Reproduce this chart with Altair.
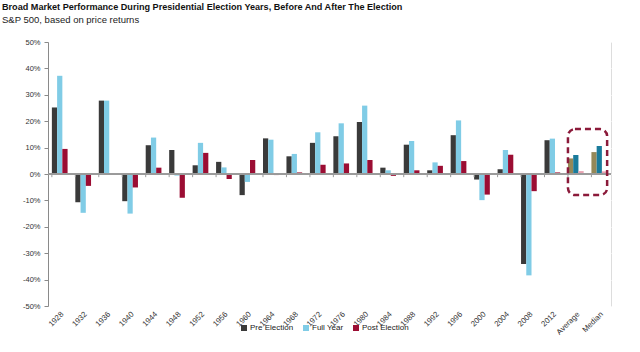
import altair as alt
import pandas as pd

categories = ["1928", "1932", "1936", "1940", "1944", "1948", "1952", "1956", "1960", "1964",
              "1968", "1972", "1976", "1980", "1984", "1988", "1992", "1996", "2000", "2004",
              "2008", "2012", "Average", "Median"]
pre_election = [25.2, -10.7, 27.8, -10.3, 10.9, 9.1, 3.3, 4.6, -8.0, 13.5, 6.7, 11.8, 14.3, 19.7,
                2.4, 11.1, 1.4, 14.7, -2.1, 1.8, -34.1, 12.8, 5.9, 8.3]
full_year = [37.2, -14.7, 27.8, -15.0, 13.8, -0.6, 11.8, 2.5, -3.0, 13.0, 7.6, 15.8, 19.2, 25.9,
             1.4, 12.5, 4.4, 20.3, -9.9, 9.1, -38.4, 13.4, 7.2, 10.6]
post_election = [9.5, -4.5, None, -5.1, 2.4, -9.0, 8.0, -1.9, 5.3, -0.4, 0.6, 3.5, 4.0, 5.3,
                 -0.7, 1.4, 3.1, 4.9, -7.8, 7.3, -6.5, 0.6, 1.1, 1.0]
y_ticks = [-50, -40, -30, -20, -10, 0, 10, 20, 30, 40, 50]
series_names = ["Pre Election", "Full Year", "Post Election"]
summary_keys = ["Avg Pre", "Avg Full", "Avg Post"]
color_domain = series_names + summary_keys
color_range = ["#3a3a3a", "#80cce6", "#9b0d33", "#958858", "#1a7b9b", "#e8a2b2"]

rows = []
for i, cat in enumerate(categories):
    summary = cat in ("Average", "Median")
    for s, vals in enumerate([pre_election, full_year, post_election]):
        v = vals[i]
        if v is None:
            continue
        rows.append({"cat": cat, "slot": s, "value": v,
                     "key": summary_keys[s] if summary else series_names[s]})
df = pd.DataFrame(rows)

ticks_df = pd.DataFrame({"cat": categories, "zero": [0.0] * len(categories),
                         "tick": [-1.2] * len(categories)})
box_df = pd.DataFrame({"a": ["Average"], "b": ["Median"], "lo": [-8.0], "hi": [17.0]})

font = "Liberation Sans"
xscale = alt.Scale(domain=categories, paddingInner=0.33, paddingOuter=0.165)
yscale = alt.Scale(domain=[-50, 50], nice=False)

x_axis = alt.Axis(labelAngle=315, domain=False, ticks=False, labelFontSize=7.8,
                  labelFont=font, labelColor="#333333", labelPadding=4, labelOverlap=False)
y_axis = alt.Axis(values=y_ticks, labelExpr="datum.value + '%'", grid=True,
                  gridColor="#ffffff", gridWidth=1, domainColor="#8a8a8a",
                  tickColor="#8a8a8a", tickSize=4, labelFontSize=7.5, labelFont=font,
                  labelColor="#333333", labelPadding=4, labelOverlap=False, labelBound=False)

bars = alt.Chart(df).mark_bar().encode(
    x=alt.X("cat:N", scale=xscale, sort=categories, title=None, axis=x_axis),
    xOffset=alt.XOffset("slot:O", scale=alt.Scale(paddingInner=0)),
    y=alt.Y("value:Q", scale=yscale, title=None, axis=y_axis),
    color=alt.Color("key:N", scale=alt.Scale(domain=color_domain, range=color_range),
                    legend=alt.Legend(values=series_names, title=None, orient="none",
                                      direction="horizontal", legendX=192, legendY=282,
                                      symbolType="square", symbolSize=36, symbolStrokeWidth=0,
                                      labelFont=font, labelFontSize=8, labelColor="#222222",
                                      columnPadding=8, symbolOffset=0, labelOffset=2)),
)

zero = alt.Chart(ticks_df).mark_rule(color="#9a9a9a", strokeWidth=1).encode(
    y=alt.Y("zero:Q", scale=yscale, title=None, axis=y_axis))

ticks = alt.Chart(ticks_df).mark_rule(color="#9a9a9a", strokeWidth=1).encode(
    x=alt.X("cat:N", scale=xscale, sort=categories, bandPosition=0, title=None, axis=x_axis),
    y=alt.Y("zero:Q", scale=yscale, title=None, axis=y_axis), y2="tick:Q")

box = alt.Chart(box_df).mark_rect(fill=None, stroke="#8b1a3a", strokeWidth=2.5,
                                  strokeDash=[6, 4], cornerRadius=7).encode(
    x=alt.X("a:N", scale=xscale, sort=categories, bandPosition=0, title=None, axis=x_axis),
    x2=alt.X2("b:N", bandPosition=1),
    y=alt.Y("lo:Q", scale=yscale, title=None, axis=y_axis), y2="hi:Q")

chart = alt.layer(bars, zero, ticks, box).properties(
    width=563, height=264,
    autosize=alt.AutoSizeParams(type="none"),
    padding={"left": 48, "top": 42, "right": 29, "bottom": 46},
    title=alt.TitleParams(
        "Broad Market Performance During Presidential Election Years, Before And After The Election",
        subtitle="S&P 500, based on price returns",
        anchor="start", frame="group", dx=-46, offset=14,
        font=font, fontSize=9.1, fontWeight="bold", color="#111111",
        subtitleFont=font, subtitleFontSize=9.5, subtitleColor="#222222", subtitlePadding=2),
).configure_view(fill="#f0f0f0", strokeWidth=0).configure(background="white")

chart.save("out.html", embed_options={"renderer": "svg", "actions": False})
